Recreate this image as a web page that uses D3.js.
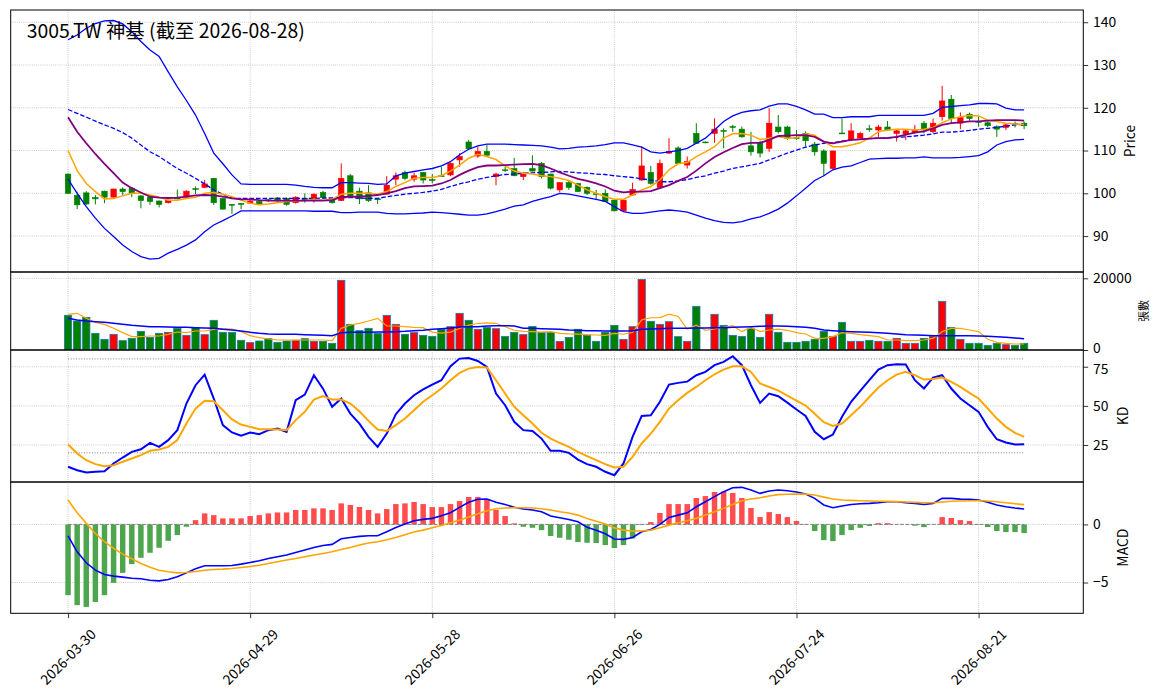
<!DOCTYPE html>
<html>
<head>
<meta charset="utf-8">
<script src="https://cdn.jsdelivr.net/npm/d3@7"></script>
<style>
  body { margin: 0; background: #fff; }
  svg { display: block; }
  text { font-family: "Noto Sans CJK TC", "Noto Sans CJK SC", "Noto Sans", sans-serif; }
</style>
</head>
<body>
<div id="chart"></div>
<script>
// trading calendar (weekdays minus TWSE holidays)
const firstDay = "2026-03-30";
const lastDay = "2026-08-28";
const holidays = ["2026-04-03", "2026-04-06", "2026-05-01", "2026-06-19"];
const tickEvery = 20;

const open = [104.5, 99.5, 100.1, 99.0, 100.5, 99.1, 101.0, 101.2, 99.4, 99.1,
  98.2, 97.8, 98.9, 99.1, 101.1, 101.4, 103.5, 98.8, 97.4, 97.6,
  97.7, 98.1, 98.5, 98.9, 98.8, 97.8, 98.8, 98.6, 100.2, 98.6,
  98.3, 104.1, 100.5, 100.1, 98.7, 99.8, 103.3, 104.9, 103.3, 104.9,
  103.2, 104.1, 104.3, 107.8, 112.0, 108.7, 109.8, 103.9, 105.5, 105.8,
  103.9, 105.8, 107.0, 104.5, 100.8, 102.5, 102.3, 101.4, 99.9, 100.0,
  98.4, 95.9, 99.6, 103.1, 104.9, 101.4, 109.4, 110.6, 106.6, 114.0,
  112.0, 114.0, 114.7, 115.6, 115.0, 111.1, 111.8, 110.5, 115.5, 115.5,
  113.0, 114.0, 111.5, 109.9, 105.8, 114.1, 112.5, 112.9, 115.1, 114.8,
  115.5, 114.0, 113.9, 114.2, 116.4, 114.4, 117.9, 122.0, 116.4, 118.5,
  116.8, 116.5, 115.6, 115.4, 116.3, 116.4];
const high = [104.6, 100.4, 100.5, 99.6, 100.6, 101.1, 101.4, 101.5, 99.5, 99.6,
  98.3, 98.5, 100.9, 100.7, 101.6, 103.1, 103.6, 99.0, 97.5, 97.8,
  98.4, 98.2, 98.7, 99.1, 99.0, 99.3, 100.0, 100.0, 100.6, 98.8,
  107.0, 104.5, 101.3, 101.9, 98.9, 104.0, 104.9, 105.3, 104.8, 105.0,
  104.5, 106.2, 107.2, 109.4, 112.5, 110.9, 111.3, 104.8, 106.2, 108.3,
  105.0, 108.9, 107.3, 104.6, 102.6, 103.1, 102.4, 101.6, 100.8, 100.9,
  98.5, 98.5, 102.5, 111.0, 106.4, 107.9, 112.9, 111.0, 108.6, 116.4,
  112.1, 117.5, 115.2, 116.0, 115.6, 114.4, 112.3, 119.9, 118.3, 115.8,
  114.8, 114.5, 112.0, 110.3, 110.0, 117.5, 116.4, 114.4, 116.0, 116.0,
  116.9, 114.8, 115.0, 116.0, 116.9, 117.5, 125.1, 123.0, 118.9, 118.9,
  117.9, 116.8, 115.9, 116.2, 116.8, 116.8];
const low = [99.9, 96.3, 97.3, 97.4, 97.7, 99.0, 99.5, 99.1, 96.5, 97.3,
  96.7, 97.6, 98.6, 99.0, 99.8, 101.2, 97.3, 96.2, 95.2, 96.3,
  97.6, 97.5, 98.0, 98.0, 97.1, 97.6, 97.8, 97.8, 98.8, 97.6,
  98.2, 99.0, 97.5, 98.0, 97.5, 99.7, 101.9, 103.1, 102.7, 102.3,
  102.3, 103.8, 104.0, 106.2, 110.2, 108.3, 108.8, 101.9, 105.0, 104.0,
  103.1, 105.1, 103.5, 100.9, 100.2, 100.8, 100.3, 99.6, 98.6, 98.0,
  95.8, 95.8, 99.4, 102.9, 102.0, 101.2, 109.2, 107.0, 105.8, 111.6,
  111.7, 111.8, 110.5, 114.4, 113.0, 108.8, 108.4, 109.7, 114.0, 112.5,
  112.5, 110.9, 108.8, 104.1, 105.6, 113.9, 112.2, 112.5, 114.4, 113.2,
  114.6, 112.1, 112.5, 114.0, 114.0, 114.0, 117.0, 116.4, 115.0, 117.0,
  115.6, 115.5, 113.2, 114.8, 115.4, 115.0];
const close = [100.0, 97.3, 97.5, 98.7, 99.1, 101.0, 100.4, 100.0, 98.3, 98.1,
  97.4, 98.4, 98.7, 100.5, 100.9, 102.2, 97.8, 96.3, 97.2, 97.5,
  98.2, 97.5, 98.3, 98.2, 97.4, 99.1, 98.3, 99.8, 99.0, 97.8,
  103.5, 99.2, 98.7, 98.3, 98.5, 101.9, 104.1, 103.5, 104.1, 103.1,
  103.0, 103.9, 107.0, 108.6, 110.4, 109.8, 108.9, 104.5, 105.4, 104.1,
  104.5, 105.2, 103.9, 101.2, 102.5, 101.4, 100.4, 100.0, 99.7, 98.1,
  95.9, 98.4, 100.9, 106.4, 102.3, 107.0, 109.8, 107.0, 107.4, 111.7,
  111.8, 115.0, 114.5, 115.4, 113.2, 109.7, 109.4, 116.4, 114.4, 112.9,
  112.8, 112.3, 109.7, 107.0, 109.9, 113.9, 114.6, 114.0, 114.9, 115.5,
  114.8, 114.6, 114.6, 114.8, 114.8, 116.4, 121.6, 117.5, 117.7, 117.5,
  116.7, 115.8, 115.0, 116.0, 116.1, 115.8];

const bbUpper = [135.9, 137.0, 138.6, 139.7, 140.3, 140.4, 139.6, 137.8, 135.5, 133.5,
  132.0, 128.4, 124.9, 121.7, 118.3, 114.0, 109.4, 106.9, 104.3, 102.2,
  102.1, 102.1, 102.1, 102.1, 102.1, 101.9, 101.6, 101.4, 101.3, 101.3,
  102.5, 102.5, 102.4, 102.3, 102.1, 102.2, 104.1, 104.7, 105.1, 105.5,
  105.8, 106.4, 107.4, 109.0, 110.3, 111.1, 111.5, 111.5, 111.5, 111.4,
  111.3, 111.2, 111.1, 110.8, 110.4, 110.5, 110.8, 110.9, 111.1, 111.4,
  111.8, 111.8, 111.3, 110.8, 109.7, 109.4, 109.7, 110.0, 110.5, 111.7,
  112.9, 114.8, 116.8, 118.1, 118.9, 119.3, 119.5, 120.4, 120.9, 120.9,
  120.3, 119.5, 118.5, 118.5, 117.7, 117.7, 117.9, 117.9, 117.9, 118.2,
  118.2, 118.2, 118.2, 118.2, 118.2, 118.7, 120.1, 120.3, 120.5, 120.7,
  121.0, 121.0, 120.9, 119.9, 119.5, 119.5];
const bbMiddle = [119.6, 118.7, 117.8, 116.9, 116.0, 115.2, 114.2, 112.9, 111.3, 109.7,
  108.6, 107.2, 105.8, 104.7, 103.5, 102.2, 100.8, 99.8, 98.8, 98.8,
  98.8, 98.8, 98.8, 98.8, 98.8, 98.8, 98.8, 98.8, 98.9, 98.9,
  99.0, 99.0, 98.9, 98.8, 98.8, 99.2, 99.5, 99.8, 100.0, 100.2,
  100.5, 100.9, 101.6, 102.2, 102.7, 103.3, 103.7, 104.1, 104.4, 104.5,
  104.7, 104.8, 104.9, 105.0, 105.1, 105.0, 104.8, 104.7, 104.5, 104.4,
  104.1, 103.9, 103.7, 103.4, 103.1, 102.7, 102.7, 102.9, 103.2, 103.7,
  104.1, 104.7, 105.2, 105.8, 106.2, 106.6, 107.0, 107.8, 108.6, 109.4,
  110.1, 110.8, 111.3, 111.7, 111.8, 112.2, 112.5, 112.6, 112.8, 112.9,
  113.0, 113.1, 113.2, 113.4, 113.6, 113.9, 114.3, 114.3, 114.5, 114.7,
  115.0, 115.2, 115.4, 115.7, 116.0, 116.1];
const bbLower = [103.3, 100.0, 96.9, 94.2, 91.8, 89.9, 87.9, 86.4, 85.2, 84.6,
  84.8, 86.0, 86.9, 87.9, 89.1, 91.0, 92.6, 93.6, 94.7, 95.9,
  95.9, 95.9, 95.9, 95.9, 95.9, 95.9, 95.9, 95.8, 95.8, 95.8,
  95.5, 95.5, 95.6, 95.6, 95.6, 95.3, 95.2, 95.2, 95.3, 95.4,
  95.6, 95.5, 95.3, 95.1, 94.9, 94.9, 95.2, 95.7, 96.3, 97.0,
  97.3, 98.1, 98.7, 99.2, 100.0, 99.8, 99.4, 99.0, 98.6, 98.1,
  96.9, 95.7, 95.3, 95.3, 95.6, 95.9, 96.1, 95.9, 95.6, 94.9,
  94.2, 93.6, 93.2, 93.1, 93.4, 94.0, 94.5, 95.3, 96.3, 97.7,
  99.4, 101.2, 103.0, 104.1, 105.5, 106.1, 106.4, 107.2, 108.0, 108.1,
  108.2, 108.2, 108.3, 108.3, 108.5, 108.3, 108.3, 108.3, 108.4, 108.6,
  108.8, 109.7, 111.3, 112.1, 112.5, 112.6];
const ma5 = [110.0, 105.3, 102.3, 100.4, 98.7, 98.8, 99.4, 100.0, 100.0, 99.6,
  99.1, 98.4, 98.4, 98.8, 99.1, 100.0, 100.2, 99.8, 99.2, 98.4,
  97.7, 97.3, 97.5, 97.8, 98.1, 98.2, 98.3, 98.6, 98.4, 98.6,
  99.8, 100.0, 100.0, 100.0, 99.8, 100.4, 101.6, 102.5, 103.5, 103.7,
  103.7, 104.1, 105.2, 106.6, 108.2, 109.1, 108.6, 107.9, 106.4, 105.2,
  104.7, 104.5, 104.1, 103.9, 103.5, 103.0, 101.9, 100.8, 100.0, 99.2,
  98.6, 98.6, 99.6, 100.8, 101.6, 103.1, 105.5, 106.9, 107.2, 108.6,
  109.7, 110.9, 112.9, 113.9, 114.0, 113.6, 112.6, 112.9, 113.3, 112.9,
  113.0, 113.9, 113.6, 112.1, 110.9, 110.9, 111.3, 111.8, 112.9, 114.4,
  114.8, 115.0, 115.0, 114.8, 115.0, 115.4, 116.5, 117.4, 117.9, 118.2,
  118.1, 117.1, 116.8, 116.4, 116.2, 116.1];
const ma10 = [117.8, 114.4, 111.7, 109.2, 106.9, 104.7, 102.5, 101.2, 100.2, 99.2,
  99.0, 98.9, 99.0, 99.2, 99.5, 99.6, 99.5, 99.2, 98.8, 98.6,
  98.6, 98.4, 98.3, 98.3, 98.3, 98.3, 98.3, 98.3, 98.3, 98.4,
  99.1, 99.2, 99.2, 99.4, 99.6, 100.0, 100.5, 101.2, 101.6, 101.7,
  101.8, 102.3, 103.1, 104.3, 105.3, 106.1, 106.5, 106.5, 106.6, 106.7,
  106.8, 106.9, 106.6, 105.8, 104.9, 104.1, 103.4, 102.9, 102.3, 101.6,
  100.6, 100.2, 100.4, 100.4, 100.5, 101.2, 101.9, 102.9, 103.8, 105.3,
  107.0, 108.5, 109.6, 110.6, 111.5, 111.8, 111.8, 112.5, 113.4, 113.5,
  113.6, 113.6, 113.2, 112.1, 111.7, 112.1, 112.5, 112.6, 112.8, 112.9,
  112.9, 113.2, 113.7, 114.2, 114.5, 115.2, 116.0, 116.4, 116.6, 116.8,
  116.8, 117.0, 117.1, 117.1, 117.1, 117.0];

const volume = [9670, 8090, 9110, 4650, 2980, 4370, 2600, 3260, 5210, 3530,
  4650, 4930, 6050, 4090, 6230, 4280, 8280, 4930, 4930, 2700,
  2050, 2510, 3160, 2140, 2510, 2700, 3160, 2420, 2420, 1860,
  19440, 7160, 5400, 6050, 4650, 9670, 7160, 4370, 4840, 4090,
  3810, 5770, 6510, 10230, 8280, 5770, 6320, 5950, 3810, 4930,
  4280, 6600, 4930, 4930, 2420, 3530, 5770, 4090, 2420, 4930,
  6880, 2980, 6510, 19700, 8000, 7160, 7900, 3720, 2420, 12180,
  0, 9950, 6880, 4090, 3810, 5950, 3530, 9950, 4930, 2140,
  2140, 2420, 2980, 5210, 3810, 7720, 2420, 2420, 2700, 2420,
  2420, 3260, 1860, 1860, 3260, 3810, 13580, 6320, 2980, 1860,
  1860, 1300, 1860, 1490, 1300, 1860];
const volMa5 = [9950, 10230, 8840, 7720, 7160, 6050, 4840, 3720, 3720, 3900,
  3900, 4370, 5020, 4840, 5300, 5300, 5770, 5950, 5860, 5120,
  4000, 3440, 3070, 2790, 2790, 2790, 2790, 2790, 2790, 2600,
  6050, 6980, 7440, 8090, 8840, 6700, 6700, 6510, 6320, 6230,
  5000, 4700, 5000, 6000, 6950, 7400, 7550, 7450, 6500, 5500,
  5200, 5120, 5000, 5120, 4650, 4500, 4450, 4300, 4190, 4100,
  4650, 4400, 4900, 8400, 9000, 9020, 10000, 9350, 5860, 6900,
  5500, 5860, 6320, 6790, 5120, 6320, 5120, 5580, 5800, 5500,
  4840, 4460, 3260, 3260, 3720, 4840, 4650, 4280, 4000, 3720,
  2790, 2790, 2600, 2600, 2790, 3260, 5120, 6050, 6050, 5580,
  5120, 2980, 2140, 1860, 1670, 1670];
const volMa20 = [8840, 8370, 8090, 7910, 7720, 7440, 7160, 6880, 6700, 6510,
  6510, 6420, 6320, 6320, 6230, 6140, 6050, 5770, 5580, 5300,
  4930, 4650, 4460, 4370, 4370, 4370, 4280, 4190, 4090, 4000,
  4840, 4930, 4980, 4980, 5020, 5020, 5120, 5210, 5390, 5490,
  5770, 5950, 6140, 6420, 6510, 6510, 6700, 6790, 6790, 6700,
  6050, 6050, 5950, 5860, 5770, 5580, 5490, 5390, 5390, 5300,
  5300, 5300, 5390, 5770, 5860, 5950, 6050, 6050, 6050, 6140,
  6140, 6230, 6230, 6320, 6420, 6510, 6600, 6700, 6700, 6600,
  6510, 6320, 6050, 5580, 5390, 5210, 5120, 5020, 4930, 4840,
  4650, 4460, 4280, 4190, 4090, 4000, 4000, 4000, 4000, 4000,
  3900, 3810, 3720, 3530, 3350, 3160];

const kLine = [11.1, 8.9, 7.4, 7.9, 8.3, 13.2, 17.0, 20.6, 22.3, 26.4,
  23.8, 28.1, 34.5, 51.5, 63.2, 70.0, 54.7, 37.7, 33.0, 30.9,
  33.0, 31.9, 34.5, 35.5, 33.4, 53.6, 57.2, 69.6, 61.0, 49.4,
  54.7, 45.1, 38.7, 30.2, 23.8, 32.3, 44.7, 51.5, 56.8, 60.6,
  63.6, 66.4, 75.3, 80.2, 80.6, 78.7, 74.9, 57.9, 50.4, 39.8,
  34.5, 34.0, 29.1, 21.3, 21.3, 20.0, 15.7, 12.8, 11.1, 7.9,
  5.7, 13.2, 30.2, 43.6, 44.0, 52.6, 63.6, 64.7, 65.5, 69.6,
  71.7, 76.0, 78.1, 81.7, 76.0, 63.2, 51.9, 57.9, 56.2, 52.1,
  47.7, 43.6, 33.4, 28.7, 31.7, 43.0, 52.6, 59.6, 66.4, 73.2,
  76.0, 76.6, 76.4, 66.4, 61.1, 68.1, 69.6, 61.1, 54.7, 50.4,
  46.2, 36.6, 28.7, 26.6, 25.3, 25.5];
const dLine = [25.3, 19.6, 15.3, 12.8, 11.5, 12.1, 14.3, 16.4, 18.5, 21.3,
  22.1, 23.8, 28.1, 38.7, 48.3, 53.2, 53.0, 47.2, 41.3, 38.1,
  36.6, 35.1, 35.1, 34.9, 34.5, 40.9, 46.2, 54.0, 56.2, 54.0,
  54.0, 51.5, 46.6, 40.4, 34.9, 34.0, 37.7, 41.9, 47.2, 52.6,
  56.8, 61.1, 66.4, 71.1, 73.8, 74.9, 74.5, 66.4, 57.9, 49.4,
  44.0, 38.7, 32.8, 29.1, 26.4, 23.8, 20.6, 17.9, 15.3, 12.8,
  10.6, 11.1, 17.4, 26.0, 32.3, 39.8, 48.3, 53.6, 58.3, 62.1,
  66.4, 70.2, 73.2, 75.3, 75.3, 71.7, 64.3, 62.1, 59.8, 56.6,
  53.4, 50.2, 44.9, 39.6, 37.2, 38.7, 44.0, 49.4, 55.7, 61.7,
  66.4, 70.0, 71.7, 69.6, 66.8, 67.2, 68.1, 65.3, 62.1, 58.3,
  54.7, 48.3, 41.9, 36.6, 32.8, 30.2];
const kdLevels = [20, 80];

const dif = [-0.98, -2.36, -3.3, -3.94, -4.31, -4.45, -4.54, -4.63, -4.68, -4.8,
  -4.86, -4.74, -4.51, -4.17, -3.82, -3.56, -3.56, -3.56, -3.53, -3.42,
  -3.28, -3.13, -2.93, -2.79, -2.64, -2.41, -2.21, -1.98, -1.81, -1.72,
  -1.24, -1.12, -1.03, -0.98, -0.98, -0.63, -0.26, 0.03, 0.32, 0.43,
  0.52, 0.75, 1.0, 1.47, 1.9, 2.16, 2.18, 1.9, 1.72, 1.47,
  1.32, 1.24, 1.09, 0.72, 0.57, 0.43, 0.23, -0.25, -0.5, -0.8,
  -1.26, -1.29, -1.12, -0.63, -0.43, 0.0, 0.6, 0.8, 1.0, 1.52,
  1.95, 2.39, 2.82, 3.16, 3.19, 2.96, 2.67, 2.87, 2.96, 2.9,
  2.79, 2.61, 2.24, 1.67, 1.44, 1.58, 1.72, 1.78, 1.81, 1.87,
  1.95, 1.95, 1.87, 1.81, 1.72, 1.81, 2.24, 2.24, 2.18, 2.16,
  2.1, 1.9, 1.67, 1.52, 1.41, 1.32];
const dea = [2.1, 1.0, 0.09, -0.78, -1.49, -2.07, -2.56, -2.96, -3.36, -3.68,
  -3.94, -4.08, -4.17, -4.14, -4.05, -3.94, -3.88, -3.85, -3.79, -3.71,
  -3.62, -3.51, -3.36, -3.22, -3.07, -2.93, -2.79, -2.64, -2.5, -2.36,
  -2.16, -1.98, -1.78, -1.6, -1.49, -1.32, -1.12, -0.89, -0.66, -0.49,
  -0.29, -0.09, 0.14, 0.37, 0.63, 0.92, 1.18, 1.35, 1.41, 1.44,
  1.44, 1.41, 1.35, 1.24, 1.09, 0.98, 0.8, 0.5, 0.28, 0.04,
  -0.3, -0.49, -0.57, -0.57, -0.49, -0.29, -0.06, 0.14, 0.32, 0.52,
  0.8, 1.09, 1.38, 1.72, 2.04, 2.18, 2.3, 2.44, 2.56, 2.59,
  2.62, 2.61, 2.53, 2.35, 2.18, 2.1, 2.07, 2.04, 2.01, 1.99,
  1.98, 1.96, 1.93, 1.9, 1.87, 1.87, 1.93, 1.99, 2.01, 2.04,
  2.04, 2.01, 1.95, 1.87, 1.78, 1.7];
const macdHist = [-6.09, -6.95, -7.1, -6.67, -6.09, -5.03, -4.17, -3.42, -2.87, -2.44,
  -2.01, -1.41, -0.92, -0.2, 0.37, 0.95, 0.8, 0.52, 0.52, 0.52,
  0.72, 0.8, 0.95, 1.03, 1.03, 1.24, 1.24, 1.38, 1.38, 1.24,
  1.81, 1.67, 1.5, 1.24, 0.95, 1.32, 1.75, 1.81, 1.93, 1.75,
  1.49, 1.49, 1.75, 2.01, 2.36, 2.36, 2.16, 1.24, 0.72, 0.09,
  -0.2, -0.29, -0.49, -1.0, -1.15, -1.32, -1.52, -1.58, -1.6, -1.78,
  -2.03, -1.78, -1.21, -0.05, 0.2, 0.98, 1.75, 1.75, 1.75, 2.27,
  2.44, 2.79, 2.83, 2.7, 2.27, 1.41, 0.63, 1.06, 0.9, 0.63,
  0.29, 0.03, -0.57, -1.35, -1.44, -0.92, -0.49, -0.29, -0.14, 0.11,
  0.11, 0.0, 0.0, -0.11, -0.23, 0.0, 0.63, 0.55, 0.37, 0.29,
  -0.03, -0.23, -0.57, -0.66, -0.66, -0.75];

const priceTicks = [90, 100, 110, 120, 130, 140];
const volTicks = [0, 20000];
const kdTicks = [25, 50, 75];
const macdTicks = [-5, 0];

function draw() {
  const width = 1164;
  const height = 698;
  const left = 10.7;
  const right = 1083.3;
  const fontSize = 13.9;

  const parse = d3.timeParse("%Y-%m-%d");
  const fmtDate = d3.timeFormat("%Y-%m-%d");
  const dates = d3.timeDay.range(parse(firstDay), d3.timeDay.offset(parse(lastDay), 1))
    .filter(d => d.getDay() !== 0 && d.getDay() !== 6)
    .map(fmtDate)
    .filter(s => !holidays.includes(s));
  const idx = d3.range(dates.length);
  const xTicks = idx.filter(i => i % tickEvery === 0);

  const svg = d3.select("#chart")
    .append("svg")
    .attr("width", width)
    .attr("height", height);

  const x = d3.scaleLinear().domain([-6.3, 111.5]).range([left, right]);
  const step = x(1) - x(0);

  // nudge: small vertical shift of the tick label nearest a pane edge, so
  // the volume "0" and KD "75" labels do not collide
  const panes = [
    { id: "price", top: 10, bottom: 272, domain: [81.6, 142.86], ticks: priceTicks, label: "Price", labelSize: fontSize, nudge: {} },
    { id: "vol", top: 272, bottom: 350, domain: [0, 21760], ticks: volTicks, label: "張數", labelSize: 11, nudge: { 0: -2.2 } },
    { id: "kd", top: 350, bottom: 482, domain: [1.37, 85.7], ticks: kdTicks, label: "KD", labelSize: fontSize, nudge: { 75: 2 } },
    { id: "macd", top: 482, bottom: 613.3, domain: [-7.65, 3.65], ticks: macdTicks, label: "MACD", labelSize: fontSize, nudge: {} }
  ];

  const fmtTick = v => (v < 0 ? "\u2212" + Math.abs(v) : String(v));
  const up = i => close[i] >= open[i];

  panes.forEach(p => {
    p.y = d3.scaleLinear().domain(p.domain).range([p.bottom, p.top]);
    p.g = svg.append("g");

    svg.append("clipPath")
      .attr("id", `clip-${p.id}`)
      .append("rect")
      .attr("x", left).attr("y", p.top)
      .attr("width", right - left).attr("height", p.bottom - p.top);

    // grid
    const grid = p.g.append("g")
      .attr("stroke", "#b0b0b0")
      .attr("stroke-width", 0.8)
      .attr("stroke-dasharray", "0.8,1.32");
    grid.selectAll(".hy")
      .data(p.ticks)
      .join("line")
      .attr("x1", left).attr("x2", right)
      .attr("y1", d => p.y(d)).attr("y2", d => p.y(d));
    grid.selectAll(".vx")
      .data(xTicks)
      .join("line")
      .attr("x1", d => x(d)).attr("x2", d => x(d))
      .attr("y1", p.top).attr("y2", p.bottom);

    p.plot = p.g.append("g").attr("clip-path", `url(#clip-${p.id})`);
  });

  const line = (y, values) => d3.line()
    .x((d, i) => x(i))
    .y(d => y(d))(values);

  // price pane
  const pp = panes[0];
  const candles = pp.plot.append("g")
    .selectAll("g")
    .data(idx)
    .join("g")
    .attr("stroke", i => (up(i) ? "#ff0000" : "#008000"))
    .attr("fill", i => (up(i) ? "#ff0000" : "#008000"));
  candles.append("line")
    .attr("x1", i => x(i)).attr("x2", i => x(i))
    .attr("y1", i => pp.y(high[i])).attr("y2", i => pp.y(low[i]))
    .attr("stroke-width", 1);
  candles.append("rect")
    .attr("x", i => x(i) - step * 0.3)
    .attr("width", step * 0.6)
    .attr("y", i => pp.y(Math.max(open[i], close[i])))
    .attr("height", i => Math.max(0.8, Math.abs(pp.y(open[i]) - pp.y(close[i]))))
    .attr("stroke-width", 0.6);

  const priceLines = [
    { values: bbUpper, color: "#0000ff", w: 1.3 },
    { values: bbLower, color: "#0000ff", w: 1.3 },
    { values: bbMiddle, color: "#0000ff", w: 1.3, dash: "4.6,2" },
    { values: ma5, color: "#ffa500", w: 1.5 },
    { values: ma10, color: "#800080", w: 1.8 }
  ];
  priceLines.forEach(l => {
    pp.plot.append("path")
      .attr("d", line(pp.y, l.values))
      .attr("fill", "none")
      .attr("stroke", l.color)
      .attr("stroke-width", l.w)
      .attr("stroke-dasharray", l.dash || null);
  });

  // volume pane
  const vp = panes[1];
  vp.plot.append("g")
    .selectAll("rect")
    .data(idx)
    .join("rect")
    .attr("x", i => x(i) - step * 0.4)
    .attr("width", step * 0.8)
    .attr("y", i => vp.y(volume[i]))
    .attr("height", i => vp.y(0) - vp.y(volume[i]))
    .attr("fill", i => (up(i) ? "#ff0000" : "#008000"))
    .attr("stroke", i => (volume[i] > 0 ? "#1f77b4" : "none"))
    .attr("stroke-width", 0.8);
  [{ values: volMa5, color: "#ffa500", w: 1.2 }, { values: volMa20, color: "#0000ff", w: 1.5 }]
    .forEach(l => {
      vp.plot.append("path")
        .attr("d", line(vp.y, l.values))
        .attr("fill", "none")
        .attr("stroke", l.color)
        .attr("stroke-width", l.w);
    });

  // KD pane
  const kp = panes[2];
  kp.plot.selectAll(".lvl")
    .data(kdLevels)
    .join("line")
    .attr("x1", x(0)).attr("x2", x(dates.length - 1))
    .attr("y1", d => kp.y(d)).attr("y2", d => kp.y(d))
    .attr("stroke", "#808080")
    .attr("stroke-width", 1)
    .attr("stroke-dasharray", "1,1.65");
  [{ values: kLine, color: "#0000ff" }, { values: dLine, color: "#ffa500" }]
    .forEach(l => {
      kp.plot.append("path")
        .attr("d", line(kp.y, l.values))
        .attr("fill", "none")
        .attr("stroke", l.color)
        .attr("stroke-width", 2);
    });

  // MACD pane
  const mp = panes[3];
  mp.plot.append("g")
    .selectAll("rect")
    .data(idx)
    .join("rect")
    .attr("x", i => x(i) - step * 0.3)
    .attr("width", step * 0.6)
    .attr("y", i => mp.y(Math.max(0, macdHist[i])))
    .attr("height", i => Math.abs(mp.y(macdHist[i]) - mp.y(0)))
    .attr("fill", i => (macdHist[i] >= 0 ? "#ff4d4d" : "#4da64d"));
  mp.plot.append("line")
    .attr("x1", x(0)).attr("x2", x(dates.length - 1))
    .attr("y1", mp.y(0)).attr("y2", mp.y(0))
    .attr("stroke", "#808080")
    .attr("stroke-width", 1)
    .attr("stroke-dasharray", "3.7,1.6");
  [{ values: dif, color: "#0000ff" }, { values: dea, color: "#ffa500" }]
    .forEach(l => {
      mp.plot.append("path")
        .attr("d", line(mp.y, l.values))
        .attr("fill", "none")
        .attr("stroke", l.color)
        .attr("stroke-width", 1.6);
    });

  // frames, right axes, labels
  panes.forEach(p => {
    p.g.append("rect")
      .attr("x", left).attr("y", p.top)
      .attr("width", right - left).attr("height", p.bottom - p.top)
      .attr("fill", "none")
      .attr("stroke", "#000")
      .attr("stroke-width", 1);

    const ax = p.g.append("g")
      .attr("transform", `translate(${right},0)`)
      .call(d3.axisRight(p.y).tickValues(p.ticks).tickSize(4.9).tickPadding(4.9).tickFormat(fmtTick));
    ax.select(".domain").remove();
    ax.attr("font-family", null).attr("font-size", fontSize);
    ax.selectAll("line").attr("stroke-width", 0.8);
    ax.selectAll("text")
      .attr("fill", "#000")
      .attr("y", d => p.nudge[d] || 0);

    let maxW = 0;
    ax.selectAll("text").each(function () {
      maxW = Math.max(maxW, this.getComputedTextLength());
    });
    const lx = right + 9.8 + maxW + 5.6 + p.labelSize * 0.55;
    const ly = (p.top + p.bottom) / 2;
    p.g.append("text")
      .attr("transform", `translate(${lx},${ly}) rotate(-90)`)
      .attr("text-anchor", "middle")
      .attr("dominant-baseline", "central")
      .attr("font-size", p.labelSize)
      .text(p.label);
  });

  // bottom date axis
  const xa = svg.append("g")
    .attr("transform", `translate(0,${mp.bottom})`)
    .call(d3.axisBottom(x).tickValues(xTicks).tickSize(4.9).tickFormat(i => dates[i]));
  xa.select(".domain").remove();
  xa.attr("font-family", null).attr("font-size", fontSize);
  xa.selectAll("line").attr("stroke-width", 0.8);
  xa.selectAll("text")
    .attr("y", 0)
    .attr("dy", null)
    .attr("fill", "#000")
    .attr("text-anchor", "middle")
    .attr("dominant-baseline", "central")
    .attr("transform", "translate(-1,43) rotate(-45)");

  // title
  svg.append("text")
    .attr("x", 26.7)
    .attr("y", 38.3)
    .attr("font-size", 19.4)
    .attr("fill", "#000")
    .text(`3005.TW 神基 (截至 ${dates[dates.length - 1]})`);
}
draw();
</script>
</body>
</html>
